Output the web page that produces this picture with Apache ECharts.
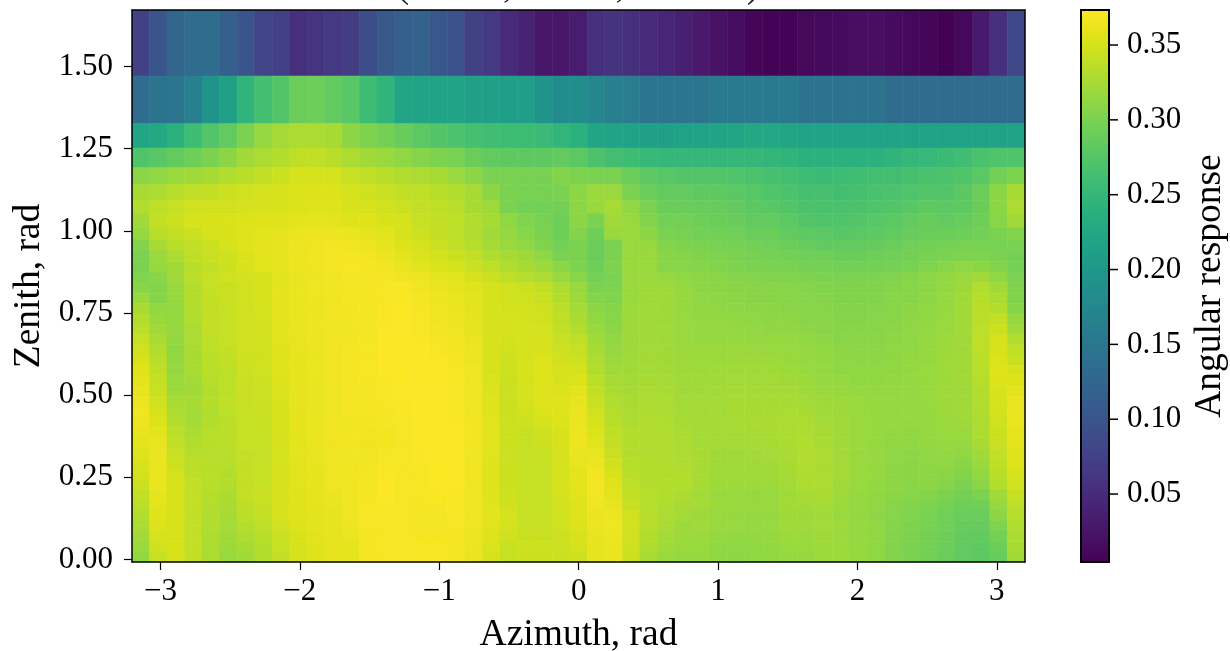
<!DOCTYPE html>
<html>
<head>
<meta charset="utf-8">
<title>Angular response</title>
<script src="https://cdn.jsdelivr.net/npm/echarts@6/dist/echarts.min.js"></script>
<style>
html, body { margin: 0; padding: 0; background: #fff; }
#chart { width: 1230px; height: 651px; }
</style>
</head>
<body>
<div id="chart"></div>
<script>
// cell edges, rad
var azimuthEdges = [-3.204, -3.078, -2.953, -2.827, -2.702, -2.576, -2.450, -2.325, -2.199, -2.074, -1.948, -1.822, -1.697, -1.571, -1.446, -1.320, -1.194, -1.069, -0.943, -0.818, -0.692, -0.566, -0.441, -0.315, -0.190, -0.064,
	0.062, 0.187, 0.313, 0.438, 0.564, 0.690, 0.815, 0.941, 1.066, 1.192, 1.318, 1.443, 1.569, 1.694, 1.820, 1.946, 2.071, 2.197, 2.322, 2.448, 2.574, 2.699, 2.825, 2.950, 3.076, 3.202];
var zenithEdges = [1.672, 1.471, 1.326, 1.252, 1.192, 1.141, 1.093, 1.053, 1.009, 0.972, 0.939, 0.906, 0.873,
	0.842, 0.810, 0.779, 0.747, 0.716, 0.684, 0.653, 0.622, 0.590, 0.559, 0.527, 0.496, 0.464, 0.433, 0.401, 0.370, 0.338, 0.307, 0.275, 0.244, 0.212, 0.181, 0.150, 0.118, 0.087, 0.055, 0.024, -0.008];

var azimuthTicks = [-3, -2, -1, 0, 1, 2, 3];
var zenithTicks = [0, 0.25, 0.5, 0.75, 1, 1.25, 1.5];
var responseTicks = [0.05, 0.1, 0.15, 0.2, 0.25, 0.3, 0.35];
var viridis = ['#440154', '#481467', '#482576', '#453781', '#404788', '#39568c', '#33638d', '#2d708e', '#287d8e', '#238a8d', '#1f968b', '#20a386', '#29af7f', '#3cbb75', '#55c667', '#73d055', '#95d840', '#b8de29', '#dce319', '#fde725'];

// response x 1000, one row per zenith band, top band first
var responseRows = [
	[75,100,125,135,135,115,100,80,75,55, 60,65,70,90,105,115,120,105,95,75, 65,50,40,28,28,33,55,58,55,50, 45,38,30,22,16,10,7,7,12,14, 15,18,18,15,12,10,6,12,30,55, 85],
	[135,145,150,165,195,215,245,263,275,290, 292,285,278,258,245,222,220,218,218,215, 215,212,210,195,182,185,175,165,160,148, 148,148,148,155,155,155,155,155,145,145, 145,145,145,135,135,135,135,135,135,135, 135],
	[222,227,240,258,275,285,300,316,323,328, 328,325,310,302,296,288,280,275,270,264, 260,258,257,255,247,240,222,218,216,214, 214,216,218,220,222,226,224,222,218,218, 218,218,218,218,216,216,216,216,216,216, 216],
	[272,278,285,292,300,310,322,328,332,338, 340,335,328,322,318,312,306,302,298,290, 285,283,283,283,285,280,270,262,258,252, 250,250,250,250,250,250,248,245,240,240, 240,240,240,245,250,252,256,260,268,272, 272],
	[310,312,318,322,325,330,335,340,345,350, 350,350,343,338,335,330,328,325,318,310, 300,300,298,298,305,302,300,300,290,282, 278,275,275,275,272,270,265,262,258,256, 258,260,262,262,265,268,270,272,280,295, 302],
	[325,328,335,338,340,345,348,350,352,353, 354,354,350,347,344,340,338,335,330,325, 310,300,298,298,300,310,318,318,300,290, 285,285,283,283,280,278,272,270,265,265, 262,265,268,270,272,275,275,280,290,310, 325],
	[330,338,342,348,348,348,350,352,352,354, 355,355,352,350,348,345,340,338,334,325, 320,300,295,295,296,310,318,325,312,300, 290,290,288,288,285,280,278,275,270,268, 268,270,272,275,278,282,280,282,290,310, 328],
	[322,340,345,350,352,353,354,355,356,358, 360,358,356,355,352,350,342,340,337,330, 325,312,303,298,292,310,300,322,318,305, 295,295,292,290,288,285,285,280,275,272, 272,275,278,280,285,288,285,288,292,308, 322],
	[315,335,340,345,350,352,356,358,360,362, 364,364,362,360,357,352,346,340,337,330, 322,315,307,300,292,305,292,318,318,310, 300,298,295,295,293,290,290,285,282,280, 277,280,282,285,288,290,290,292,295,300, 304],
	[305,325,335,340,345,350,355,358,360,364, 366,367,365,364,360,354,350,345,340,333, 325,318,312,304,295,300,290,300,318,316, 305,302,300,298,297,295,293,290,288,285, 285,285,287,290,293,295,297,298,298,298, 300],
	[300,318,328,338,343,347,353,358,360,364, 366,368,369,367,364,358,353,350,345,340, 330,325,320,312,300,300,290,300,318,318, 308,306,304,302,300,298,297,295,293,293, 290,290,292,294,296,298,300,302,302,300, 297],
	[300,315,322,335,340,345,352,357,360,364, 366,368,370,368,366,362,358,353,350,345, 338,330,325,320,310,302,292,302,318,318, 308,308,306,304,302,300,300,300,297,297, 295,295,296,297,299,303,308,312,310,305, 297],
	[303,308,322,336,342,347,349,352,358,362, 364,366,368,369,368,366,364,360,357,352, 345,338,334,328,318,308,296,300,318,318, 316,312,310,308,306,305,304,303,302,301, 300,300,302,304,306,310,314,318,322,312, 300],
	[308,305,318,332,342,344,347,352,358,362, 365,367,368,368,370,371,366,363,360,357, 350,347,345,340,328,318,300,302,318,320, 320,315,311,310,309,308,308,307,306,304, 303,303,304,306,308,310,314,320,330,322, 303],
	[318,306,316,332,340,343,347,351,358,362, 364,366,368,368,370,371,368,364,361,358, 351,348,347,343,333,320,306,304,318,320, 320,316,312,311,310,309,309,308,307,306, 304,304,305,307,309,311,315,321,333,327, 304],
	[325,312,315,330,340,342,347,350,358,362, 364,366,367,368,371,372,369,365,362,358, 351,349,348,346,336,324,310,306,319,321, 320,316,313,312,311,310,310,309,308,307, 305,305,306,308,310,312,315,322,335,331, 306],
	[331,317,315,330,340,342,347,349,358,362, 364,366,367,368,371,372,370,366,364,359, 352,350,349,348,338,328,313,308,319,321, 320,317,314,314,313,312,311,311,309,308, 306,306,307,309,311,313,317,322,336,340, 316],
	[336,322,315,328,340,342,347,349,358,362, 364,366,367,369,372,372,370,367,365,360, 352,350,350,350,340,332,317,310,320,322, 321,318,316,315,314,314,313,313,311,309, 308,308,308,310,312,314,318,322,337,345, 322],
	[342,326,314,327,338,342,347,348,357,361, 364,366,367,369,372,372,371,368,366,362, 352,349,350,351,343,338,321,313,320,322, 321,318,316,316,316,316,315,315,313,311, 309,309,309,311,312,315,320,322,338,350, 330],
	[348,331,313,326,337,341,347,348,356,361, 363,366,368,370,372,373,372,370,367,363, 352,348,351,352,346,342,325,316,320,323, 322,319,318,318,318,318,317,317,315,313, 311,310,310,312,313,316,320,322,337,352, 338],
	[352,335,314,325,336,339,346,347,356,360, 363,366,368,370,372,373,373,371,369,364, 352,346,351,354,348,346,329,319,321,323, 322,320,319,319,320,320,319,318,316,314, 312,311,311,312,314,316,320,322,336,354, 344],
	[355,338,315,325,335,337,345,347,355,360, 363,366,368,370,372,373,373,372,370,365, 352,345,352,355,350,350,332,322,322,324, 323,320,320,321,321,322,321,320,317,315, 313,312,312,313,314,317,320,322,335,355, 350],
	[358,341,317,323,333,337,344,346,354,360, 362,365,368,369,371,372,373,372,370,365, 353,345,351,355,352,354,336,325,323,325, 324,321,321,322,323,323,323,322,319,316, 315,313,313,314,315,317,320,322,333,354, 354],
	[361,344,320,322,331,337,344,345,353,360, 362,365,368,369,371,372,373,373,370,366, 354,345,350,355,354,358,340,328,325,327, 326,322,322,323,324,324,324,324,321,318, 317,315,314,314,315,317,320,322,331,352, 358],
	[363,347,325,325,333,339,343,345,352,360, 362,365,368,368,370,371,373,373,370,366, 355,345,350,355,355,360,343,330,326,328, 327,323,323,324,325,325,325,325,323,320, 319,317,315,315,315,317,320,322,330,351, 361],
	[365,350,328,324,330,337,342,344,352,359, 362,365,368,368,369,371,373,373,371,366, 356,345,348,353,355,362,347,333,327,329, 328,324,323,324,325,325,326,327,325,321, 320,318,316,315,315,316,319,321,329,349, 362],
	[364,354,332,324,331,336,342,343,351,359, 362,365,367,367,368,370,372,373,371,367, 357,345,346,351,354,363,350,335,328,330, 329,325,323,324,325,326,326,328,327,323, 321,318,316,315,314,315,318,320,328,347, 361],
	[361,358,337,327,334,336,342,342,350,358, 362,366,367,366,367,370,372,373,372,367, 358,345,343,347,352,364,354,338,330,330, 330,327,324,324,324,325,326,328,329,325, 322,318,316,314,313,315,317,318,327,345, 360],
	[358,361,340,330,335,336,342,342,350,358, 362,366,367,366,367,370,372,373,372,367, 358,345,342,345,352,365,357,340,331,330, 330,327,324,323,323,324,325,327,330,326, 322,318,315,313,312,314,316,316,325,343, 358],
	[355,362,343,333,335,335,341,342,350,358, 361,365,367,366,368,370,371,373,372,367, 357,345,342,344,351,363,361,344,332,330, 330,328,325,322,322,323,324,326,330,327, 323,318,315,312,311,313,314,313,322,341, 356],
	[352,362,346,336,335,334,340,342,350,357, 361,365,366,367,370,370,371,372,372,366, 356,345,342,343,351,361,364,348,333,331, 330,329,325,322,321,322,323,325,330,328, 323,318,315,312,310,312,312,309,318,338, 354],
	[349,362,349,338,335,332,340,342,350,357, 360,365,366,368,371,370,370,372,372,366, 355,345,342,342,350,359,367,353,335,332, 331,330,325,321,320,320,321,324,329,328, 323,318,315,311,310,311,309,305,314,335, 351],
	[345,362,350,340,334,331,340,342,350,357, 360,365,366,368,372,370,370,372,372,366, 355,345,342,342,350,358,368,355,337,332, 331,330,325,320,320,320,320,323,328,328, 322,317,314,311,309,310,306,301,309,331, 347],
	[340,360,351,340,333,328,341,344,350,356, 360,363,366,369,372,370,370,371,371,366, 356,346,342,342,349,357,367,358,340,333, 330,328,323,318,317,316,317,321,325,326, 320,316,313,310,307,306,301,296,301,322, 342],
	[336,358,352,340,332,326,338,342,350,356, 359,362,365,370,371,370,369,370,371,366, 357,348,342,342,348,356,365,361,343,333, 329,325,324,319,318,317,318,323,323,324, 319,315,312,308,305,302,297,292,294,316, 337],
	[332,356,352,340,330,325,336,341,350,355, 358,360,365,370,370,370,368,368,370,366, 358,350,342,342,348,355,363,364,347,335, 328,323,320,317,316,315,316,320,320,322, 318,314,311,307,303,299,294,289,289,310, 333],
	[328,354,352,340,330,324,333,338,348,354, 358,360,364,370,370,370,368,368,370,365, 357,349,343,343,347,354,362,365,348,334, 326,320,321,318,317,316,317,321,321,323, 320,316,313,306,302,298,293,288,287,303, 330],
	[323,351,352,340,329,322,329,335,345,352, 357,360,362,369,370,370,369,369,369,364, 355,347,344,344,346,352,361,364,347,332, 324,319,319,315,314,314,315,319,319,321, 319,315,312,305,301,297,292,286,285,296, 327],
	[318,347,352,340,328,320,325,332,342,351, 356,360,360,368,370,370,370,370,368,363, 353,344,345,345,345,350,360,363,346,329, 321,318,317,313,312,312,314,317,317,320, 319,315,312,305,300,296,291,285,283,291, 325],
	[313,342,352,340,327,318,322,330,340,350, 356,360,360,368,370,370,370,370,368,362, 352,342,345,345,345,346,360,362,345,326, 318,316,315,312,311,312,313,316,316,319, 319,315,312,305,300,295,290,284,282,288, 322]
];

var RESPONSE_MIN = 0.0046, RESPONSE_MAX = 0.3734;
var FONT = '"Liberation Serif", serif';

// one item per cell: x0, x1, y0, y1, value
var cells = [];
for (var r = 0; r < responseRows.length; r++) {
	for (var c = 0; c < responseRows[r].length; c++) {
		cells.push([azimuthEdges[c], azimuthEdges[c + 1], zenithEdges[r + 1], zenithEdges[r], responseRows[r][c] / 1000]);
	}
}

function renderCell(params, api) {
	var p0 = api.coord([api.value(0), api.value(3)]);
	var p1 = api.coord([api.value(1), api.value(2)]);
	var color = api.visual('color');
	return {
		type: 'rect',
		shape: { x: p0[0], y: p0[1], width: p1[0] - p0[0], height: p1[1] - p0[1] },
		style: { fill: color, stroke: color, lineWidth: 0.6 }
	};
}

// colorbar gradient through the colorbar axis
function renderColorbar(params, api) {
	var top = api.coord([0, RESPONSE_MAX]);
	var bottom = api.coord([1, RESPONSE_MIN]);
	var stops = viridis.map(function(color, i) {
		return { offset: 1 - i / (viridis.length - 1), color: color };
	});
	return {
		type: 'rect',
		shape: { x: top[0], y: top[1], width: bottom[0] - top[0], height: bottom[1] - top[1] },
		style: { fill: new echarts.graphic.LinearGradient(0, 0, 0, 1, stops.reverse()) }
	};
}

var frameLine = { show: true, onZero: false, lineStyle: { color: '#000', width: 1.5 } };
var tickStyle = { color: '#000', width: 1.2 };

function minusLabel(v) {
	return String(v).replace('-', '\u2212');
}

// nbsp runs keep the cut-off title's paren and comma feet where they are in the picture
function gap(n) {
	return new Array(n + 1).join('\u00a0');
}

var myChart = echarts.init(document.getElementById('chart'), null, { renderer: 'canvas' });
myChart.setOption({
	animation: false,
	backgroundColor: '#fff',
	title: {
		text: '(' + gap(10) + ',' + gap(11) + ',' + gap(13) + ')',
		left: 578, textAlign: 'center', top: -32, padding: 0,
		textStyle: { fontFamily: FONT, fontSize: 37.5, fontWeight: 'normal', color: '#222' }
	},
	grid: [
		{ left: 132, top: 10, width: 893, height: 552, outerBoundsMode: 'none' },
		{ left: 1081, top: 10, width: 28, height: 552, outerBoundsMode: 'none' }
	],
	xAxis: [
		{
			type: 'value', gridIndex: 0, min: azimuthEdges[0], max: azimuthEdges[51], z: 5,
			name: 'Azimuth, rad', nameLocation: 'middle', nameGap: 54,
			nameTextStyle: { fontFamily: FONT, fontSize: 37.5, color: '#000' },
			axisLine: frameLine, splitLine: { show: false },
			axisTick: { show: true, length: 8, lineStyle: tickStyle, customValues: azimuthTicks },
			axisLabel: { fontFamily: FONT, fontSize: 31, color: '#000', margin: 14, customValues: azimuthTicks, formatter: minusLabel }
		},
		{ type: 'value', gridIndex: 0, position: 'top', min: azimuthEdges[0], max: azimuthEdges[51], z: 5, axisLine: frameLine, axisTick: { show: false }, axisLabel: { show: false }, splitLine: { show: false } },
		{ type: 'value', gridIndex: 1, position: 'bottom', min: 0, max: 1, show: false }
	],
	yAxis: [
		{
			type: 'value', gridIndex: 0, min: zenithEdges[40], max: zenithEdges[0], z: 5,
			name: 'Zenith, rad', nameLocation: 'middle', nameRotate: 90, nameGap: 80,
			nameTextStyle: { fontFamily: FONT, fontSize: 37.5, color: '#000' },
			axisLine: frameLine, splitLine: { show: false },
			axisTick: { show: true, length: 8, lineStyle: tickStyle, customValues: zenithTicks },
			axisLabel: { fontFamily: FONT, fontSize: 31, color: '#000', margin: 19, customValues: zenithTicks, formatter: function(v) { return v.toFixed(2); } }
		},
		{ type: 'value', gridIndex: 0, position: 'right', min: zenithEdges[40], max: zenithEdges[0], z: 5, axisLine: frameLine, axisTick: { show: false }, axisLabel: { show: false }, splitLine: { show: false } },
		{
			type: 'value', gridIndex: 1, position: 'right', min: RESPONSE_MIN, max: RESPONSE_MAX,
			name: 'Angular response', nameLocation: 'middle', nameRotate: 90, nameGap: 82,
			nameTextStyle: { fontFamily: FONT, fontSize: 37.5, color: '#000' },
			axisLine: { show: false }, axisTick: { show: false }, splitLine: { show: false },
			axisLabel: { fontFamily: FONT, fontSize: 31, color: '#000', margin: 18, customValues: responseTicks, formatter: function(v) { return v.toFixed(2); } }
		}
	],
	visualMap: {
		type: 'continuous', show: false, seriesIndex: [0], dimension: 4,
		min: RESPONSE_MIN, max: RESPONSE_MAX,
		inRange: { color: viridis }
	},
	series: [{
		type: 'custom', xAxisIndex: 0, yAxisIndex: 0,
		renderItem: renderCell, clip: true, silent: true,
		encode: { x: [0, 1], y: [2, 3] },
		data: cells
	}, {
		type: 'custom', xAxisIndex: 2, yAxisIndex: 2,
		renderItem: renderColorbar, clip: false, silent: true,
		data: [[0, RESPONSE_MIN]]
	}]
});

// colorbar frame and ticks on their own layer, placed through the colorbar axis
var barTop = myChart.convertToPixel({ xAxisIndex: 2, yAxisIndex: 2 }, [0, RESPONSE_MAX]);
var barBottom = myChart.convertToPixel({ xAxisIndex: 2, yAxisIndex: 2 }, [1, RESPONSE_MIN]);
var barMarks = [{
	type: 'rect', zlevel: 5, z: 100,
	shape: { x: barTop[0], y: barTop[1], width: barBottom[0] - barTop[0], height: barBottom[1] - barTop[1] },
	style: { fill: 'transparent', stroke: '#000', lineWidth: 2 }
}];
responseTicks.forEach(function(t) {
	var p = myChart.convertToPixel({ xAxisIndex: 2, yAxisIndex: 2 }, [1, t]);
	barMarks.push({
		type: 'line', zlevel: 5, z: 100,
		shape: { x1: p[0], y1: p[1], x2: p[0] + 9, y2: p[1] },
		style: { stroke: '#000', lineWidth: 1.5 }
	});
});
myChart.setOption({ graphic: barMarks });
</script>
</body>
</html>
